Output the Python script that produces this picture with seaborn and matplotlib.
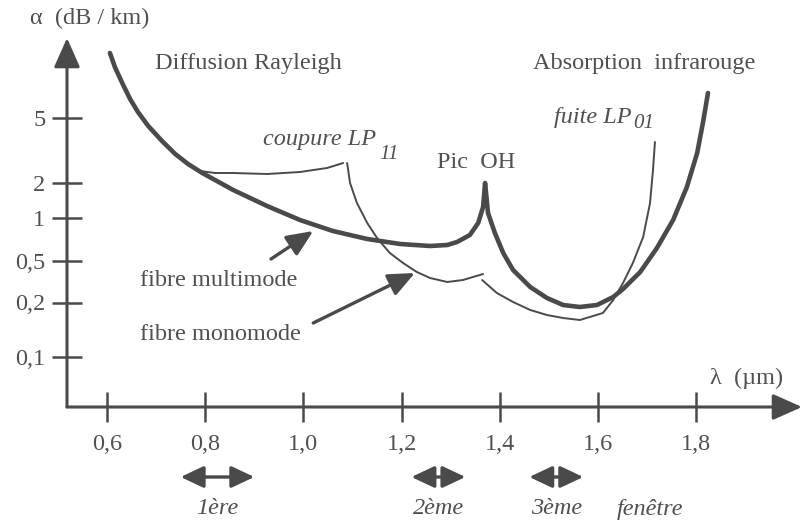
import numpy as np
import pandas as pd
import seaborn as sns
import matplotlib
matplotlib.use('Agg')
import matplotlib.pyplot as plt

# lambda in micrometres, level = height above the lambda axis (drawing units)
mm_lambda = [0.606, 0.616, 0.631, 0.647, 0.663, 0.684, 0.712, 0.739, 0.765, 0.794,
             0.820, 0.857, 0.926, 0.993, 1.060, 1.130, 1.197, 1.258, 1.293, 1.313,
             1.339, 1.356, 1.366, 1.370, 1.376, 1.390, 1.407, 1.427, 1.462, 1.496,
             1.529, 1.563, 1.598, 1.631, 1.651, 1.686, 1.720, 1.753, 1.781, 1.802,
             1.814, 1.824]
mm_level = [354, 340, 324, 308, 295, 281, 266, 253, 243, 234,
            227, 217, 201, 187, 176, 168, 163, 161, 162, 165,
            172, 184, 200, 224, 194, 174, 154, 137, 120, 109,
            102, 100, 102, 110, 118, 135, 159, 187, 220, 254,
            285, 314]

# single mode fibre, three pieces
sm_lambda_1 = [0.789, 0.820, 0.857, 0.926, 0.993, 1.048, 1.068, 1.081]
sm_level_1 = [236, 234, 234, 233, 235, 239, 242, 244]
sm_lambda_2 = [1.089, 1.095, 1.109, 1.130, 1.150, 1.176, 1.203, 1.231, 1.258,
               1.293, 1.325, 1.366]
sm_level_2 = [244, 224, 204, 184, 169, 154, 144, 135, 129, 125, 127, 133]
sm_lambda_3 = [1.364, 1.394, 1.427, 1.462, 1.496, 1.529, 1.563, 1.610, 1.631,
               1.651, 1.671, 1.692, 1.706, 1.712, 1.716]
sm_level_3 = [127, 114, 105, 97, 92, 89, 87, 94, 107, 124, 144, 170, 204, 237, 265]

x_ticks = [0.6, 0.8, 1.0, 1.2, 1.4, 1.6, 1.8]
x_tick_labels = ['0,6', '0,8', '1,0', '1,2', '1,4', '1,6', '1,8']
y_ticks = [50, 104.5, 146, 189, 224, 289]
y_tick_labels = ['0,1', '0,2', '0,5', '1', '2', '5']

windows = [(0.75, 0.90), (1.22, 1.33), (1.46, 1.57)]
window_labels = ['1ère', '2ème', '3ème']

line_color = '#4a4a4a'
text_color = '#505050'

sns.set_theme(style='ticks')
plt.rcParams['font.family'] = ['Liberation Serif', 'DejaVu Serif']

df_mm = pd.DataFrame({'lambda': mm_lambda, 'level': mm_level})
df_sm = pd.concat([
    pd.DataFrame({'lambda': sm_lambda_1, 'level': sm_level_1, 'seg': 1}),
    pd.DataFrame({'lambda': sm_lambda_2, 'level': sm_level_2, 'seg': 2}),
    pd.DataFrame({'lambda': sm_lambda_3, 'level': sm_level_3, 'seg': 3}),
])

fig = plt.figure(figsize=(8.02, 5.30), dpi=100)
fig.patch.set_facecolor('white')
ax = fig.add_axes([67 / 802, 123 / 530, 735 / 802, 369 / 530])
ax.set_facecolor('none')

sns.lineplot(data=df_sm, x='lambda', y='level', units='seg', estimator=None,
             sort=False, color=line_color, lw=1.4, ax=ax,
             solid_joinstyle='round')
sns.lineplot(data=df_mm, x='lambda', y='level', estimator=None, sort=False,
             color=line_color, lw=3.3, ax=ax, solid_joinstyle='round')

ax.set_xlim(0.5185, 2.0155)
ax.set_ylim(0, 369)
for s in ax.spines.values():
    s.set_visible(False)
ax.set_xlabel('')
ax.set_ylabel('')
ax.set_xticks(x_ticks)
ax.set_xticklabels(x_tick_labels)
ax.set_yticks(y_ticks)
ax.set_yticklabels(y_tick_labels)
ax.tick_params(axis='both', direction='inout', length=21, width=1.8,
               color=line_color, labelcolor=text_color, labelsize=17.5,
               bottom=True, left=True)
ax.tick_params(axis='x', pad=9)
ax.tick_params(axis='y', pad=5)

# axes with arrow heads
axis_arrow = dict(arrowstyle='-|>,head_length=0.9,head_width=0.4', lw=2.2,
                  color=line_color, mutation_scale=20, shrinkA=0, shrinkB=0)
ax.annotate('', xy=(1, 0), xytext=(0, 0), xycoords='axes fraction',
            arrowprops=axis_arrow, annotation_clip=False)
ax.annotate('', xy=(0, 1), xytext=(0, 0), xycoords='axes fraction',
            arrowprops=axis_arrow, annotation_clip=False)

txt = dict(color=text_color, fontsize=17.5, va='center', clip_on=False)
ax.text(0.443, 389, 'α  (dB / km)', ha='left', **txt)
ax.text(1.828, 29, 'λ  (µm)', ha='left', **txt)
ax.text(0.698, 344, 'Diffusion Rayleigh', ha='left', **txt)
ax.text(1.468, 344, 'Absorption  infrarouge', ha='left', **txt)
ax.text(1.272, 244, 'Pic  OH', ha='left', **txt)
ax.text(0.667, 126, 'fibre multimode', ha='left', **txt)
ax.text(0.667, 72, 'fibre monomode', ha='left', **txt)

# mode labels with subscripts
t1 = ax.text(0.918, 268, 'coupure LP', ha='left', style='italic', **txt)
ax.annotate('11', xy=(1, 0), xycoords=t1, xytext=(2, 3),
            textcoords='offset points', ha='left', va='top', style='italic',
            color=text_color, fontsize=15, annotation_clip=False)
t2 = ax.text(1.510, 290, 'fuite LP', ha='left', style='italic', **txt)
ax.annotate('01', xy=(1, 0), xycoords=t2, xytext=(1, 10),
            textcoords='offset points', ha='left', va='top', style='italic',
            color=text_color, fontsize=15, annotation_clip=False)

# pointers to the curves
ptr = dict(arrowstyle='-|>,head_length=0.8,head_width=0.35', lw=2.4,
           color=line_color, mutation_scale=20, shrinkA=0, shrinkB=0)
ax.annotate('', xy=(1.020, 176), xytext=(0.934, 148), arrowprops=ptr,
            annotation_clip=False)
ax.annotate('', xy=(1.227, 134), xytext=(1.020, 84), arrowprops=ptr,
            annotation_clip=False)

# transmission windows
win = dict(arrowstyle='<|-|>,head_length=0.7,head_width=0.33', lw=2.4,
           color=line_color, mutation_scale=20, shrinkA=0, shrinkB=0)
for (lo, hi), lab in zip(windows, window_labels):
    ax.annotate('', xy=(hi, -70), xytext=(lo, -70), arrowprops=win,
                annotation_clip=False)
    ax.text((lo + hi) / 2, -102, lab, ha='center', style='italic', **txt)
ax.text(1.706, -102, 'fenêtre', ha='center', style='italic', **txt)

fig.savefig('out.png', dpi=100)
